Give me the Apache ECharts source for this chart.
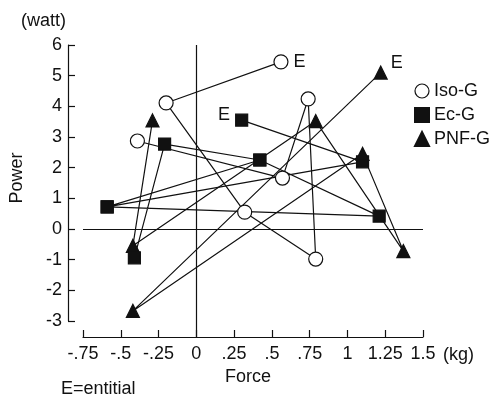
<!DOCTYPE html>
<html>
<head>
<meta charset="utf-8">
<script src="https://cdn.jsdelivr.net/npm/echarts@6/dist/echarts.min.js"></script>
<style>
  html, body { margin: 0; padding: 0; background: #fff; }
  #chart { width: 498px; height: 397px; }
</style>
</head>
<body>
<div id="chart"></div>
<script>
  // points in the order they are joined; the last one is the "E" point
  var isoPoints = [[-0.39, 2.87], [0.57, 1.66], [0.74, 4.24], [0.79, -0.98], [0.32, 0.55], [-0.20, 4.11], [0.56, 5.45]];
  var ecPoints = [[-0.41, -0.94], [-0.21, 2.77], [0.42, 2.25], [1.21, 0.42], [-0.59, 0.72], [1.10, 2.19], [0.30, 3.55]];
  var ecExtraLink = [4, 2];
  var pnfPoints = [[-0.29, 3.54], [-0.42, -0.55], [0.79, 3.52], [1.37, -0.72], [1.10, 2.45], [-0.42, -2.67], [1.22, 5.10]];

  var groupNames = ['Iso-G', 'Ec-G', 'PNF-G'];
  var xTickLabels = ['-.75', '-.5', '-.25', '0', '.25', '.5', '.75', '1', '1.25', '1.5'];
  var xMin = -0.75, xMax = 1.5, xStep = 0.25;
  var yMin = -3, yMax = 6, yStep = 1;

  var font = 'Liberation Sans, Arial, sans-serif';
  var ink = '#111';

  var myChart = echarts.init(document.getElementById('chart'));

  // put an "E" label on the last point of a group
  function withE(points, labelPos) {
    return points.map(function (p, i) {
      if (i !== points.length - 1) return p;
      return {
        value: p,
        label: {
          show: true, formatter: 'E', color: ink, fontSize: 18, fontFamily: font,
          position: labelPos.position, offset: labelPos.offset
        }
      };
    });
  }

  var ecData = withE(ecPoints, { position: 'left', offset: [0, -5] })
    .concat(['-', ecPoints[ecExtraLink[0]], ecPoints[ecExtraLink[1]]]);

  function lineSeries(name, data, symbol, size, fill) {
    return {
      name: name,
      type: 'line',
      data: data,
      symbol: symbol,
      symbolSize: size,
      showAllSymbol: true,
      connectNulls: false,
      lineStyle: { color: ink, width: 1.2 },
      itemStyle: { color: fill, borderColor: ink, borderWidth: 1.2 },
      emphasis: { disabled: true },
      z: 3
    };
  }

  var xOffset = 16;
  var plainLine = { color: ink, width: 1.2, type: 'solid' };

  var series = [
    lineSeries(groupNames[0], withE(isoPoints, { position: 'right', offset: [0, 0] }), 'circle', 14, '#fff'),
    lineSeries(groupNames[1], ecData, 'rect', 12, ink),
    lineSeries(groupNames[2], withE(pnfPoints, { position: 'right', offset: [-2, -10] }), 'triangle', 13, ink),
    // horizontal zero line on the main grid
    {
      type: 'line', data: [], z: 1,
      markLine: { silent: true, symbol: 'none', label: { show: false }, lineStyle: plainLine, data: [{ yAxis: 0 }] }
    },
    // vertical zero line, on a taller hidden grid so it runs down to the x axis
    {
      type: 'line', data: [], z: 1, xAxisIndex: 1, yAxisIndex: 1,
      markLine: { silent: true, symbol: 'none', label: { show: false }, lineStyle: plainLine, data: [{ xAxis: 0 }] }
    }
  ];

  var hiddenAxis = { show: false, axisLine: { show: false }, axisTick: { show: false }, axisLabel: { show: false }, splitLine: { show: false } };

  option = {
    animation: false,
    backgroundColor: '#fff',
    grid: [
      { left: 83, right: 75, top: 45, bottom: 76 },
      { left: 83, right: 75, top: 45, bottom: 76 - xOffset }
    ],
    legend: {
      orient: 'vertical',
      left: 409,
      top: 76,
      itemWidth: 14,
      itemHeight: 14,
      itemGap: 4,
      textStyle: { color: ink, fontSize: 18, fontFamily: font, lineHeight: 20 },
      data: [
        { name: groupNames[0], icon: 'circle', itemStyle: { color: '#fff', borderColor: ink, borderWidth: 1.2 } },
        { name: groupNames[1], icon: 'rect', itemStyle: { color: ink } },
        { name: groupNames[2], icon: 'triangle', itemStyle: { color: ink } }
      ]
    },
    xAxis: [{
      type: 'value', gridIndex: 0,
      min: xMin, max: xMax, interval: xStep,
      offset: xOffset,
      axisLine: { show: true, onZero: false, lineStyle: { color: ink, width: 1.2 } },
      axisTick: { show: true, inside: true, length: 7, lineStyle: { color: ink, width: 1.2 } },
      splitLine: { show: false },
      axisLabel: {
        color: ink, fontSize: 18, fontFamily: font, margin: 8,
        formatter: function (v) { return xTickLabels[Math.round((v - xMin) / xStep)]; }
      }
    }, Object.assign({ type: 'value', gridIndex: 1, min: xMin, max: xMax }, hiddenAxis)],
    yAxis: [{
      type: 'value', gridIndex: 0,
      min: yMin, max: yMax, interval: yStep,
      offset: 15,
      axisLine: { show: true, onZero: false, lineStyle: { color: ink, width: 1.2 } },
      axisTick: { show: true, inside: true, length: 7, lineStyle: { color: ink, width: 1.2 } },
      splitLine: { show: false },
      axisLabel: { color: ink, fontSize: 18, fontFamily: font, margin: 6 }
    }, Object.assign({ type: 'value', gridIndex: 1, min: yMin, max: yMax }, hiddenAxis)],
    graphic: [
      { type: 'text', left: 21, top: 12, style: { text: '(watt)', fill: ink, font: '18px ' + font } },
      { type: 'text', x: 17, y: 178, rotation: Math.PI / 2,
        style: { text: 'Power', fill: ink, font: '18px ' + font, align: 'center', verticalAlign: 'middle' } },
      { type: 'text', x: 248, y: 377,
        style: { text: 'Force', fill: ink, font: '18px ' + font, align: 'center', verticalAlign: 'middle' } },
      { type: 'text', x: 443, y: 355,
        style: { text: '(kg)', fill: ink, font: '18px ' + font, align: 'left', verticalAlign: 'middle' } },
      { type: 'text', x: 61, y: 389,
        style: { text: 'E=entitial', fill: ink, font: '18px ' + font, align: 'left', verticalAlign: 'middle' } }
    ],
    series: series
  };

  myChart.setOption(option);
</script>
</body>
</html>
